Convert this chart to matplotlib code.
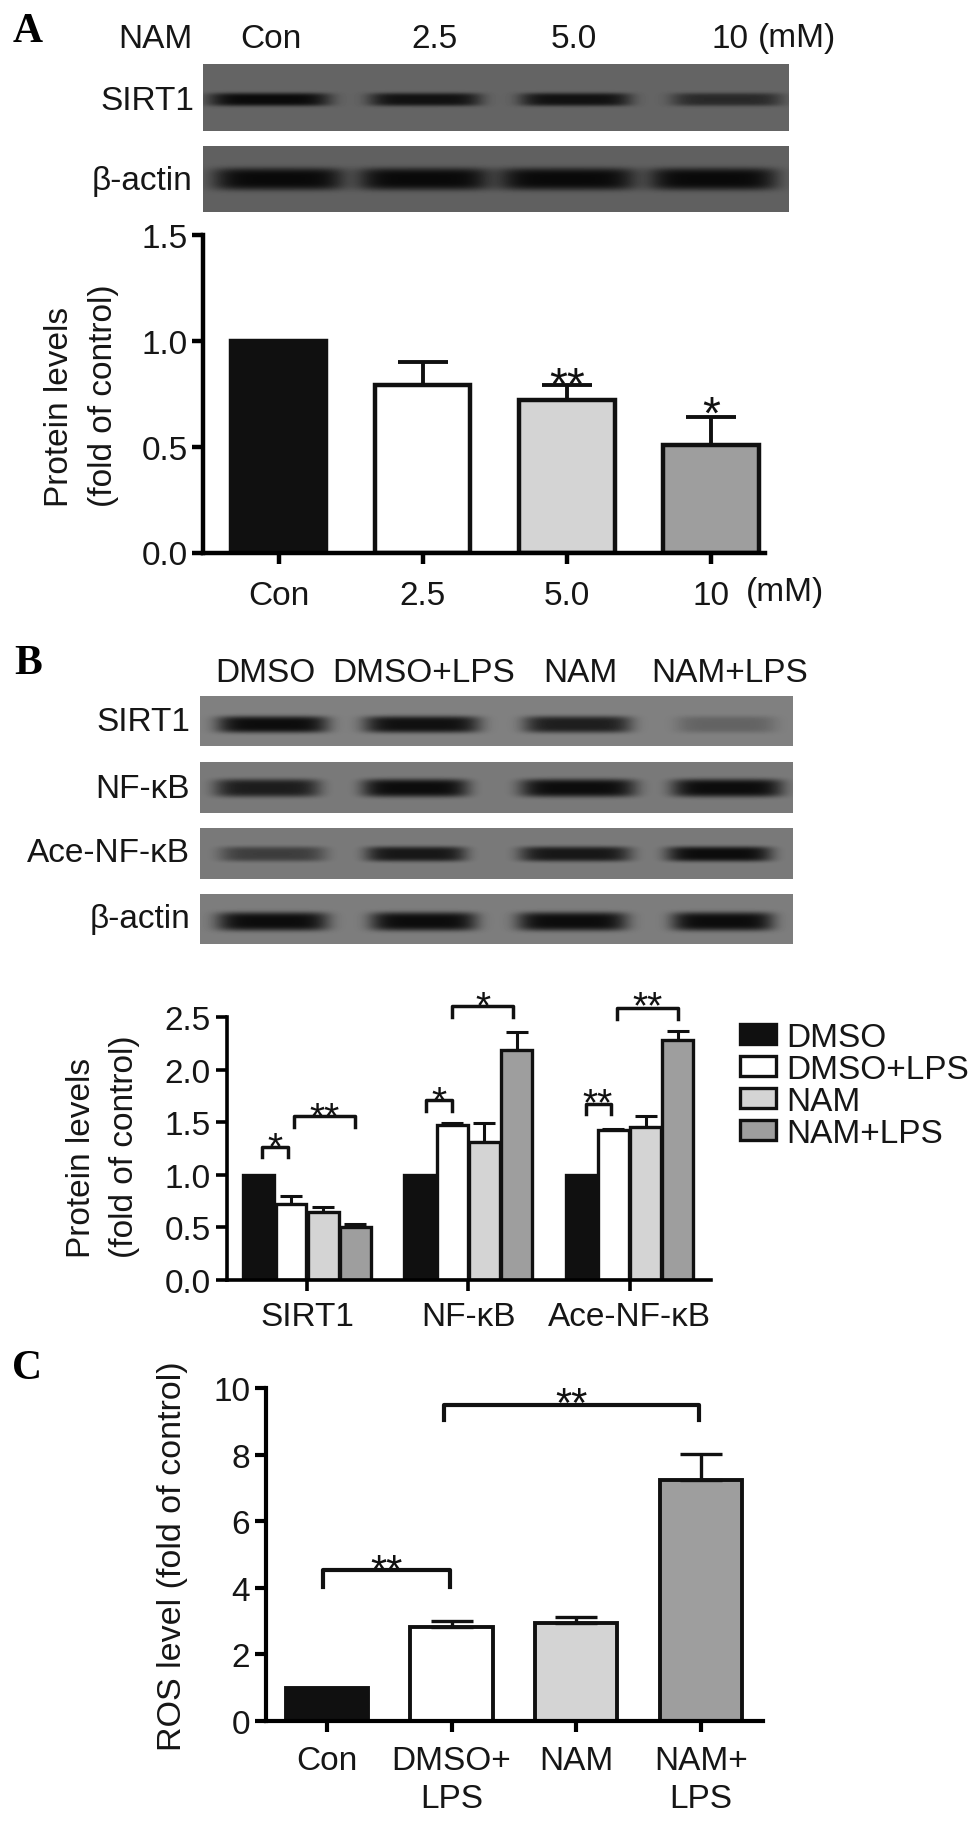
import numpy as np
import matplotlib
matplotlib.use('Agg')
import matplotlib.pyplot as plt
from matplotlib.patches import Patch

W, H = 979, 1824
plt.rcParams['font.family'] = ['Liberation Sans', 'DejaVu Sans']
FS = 24

DARK = '#101010'
COLORS = ['#101010', '#ffffff', '#d4d4d4', '#9e9e9e']

# panel A
a_labels = ['Con', '2.5', '5.0', '10']
a_values = [1.0, 0.79, 0.72, 0.51]
a_errors = [0.0, 0.11, 0.07, 0.13]

# panel B
b_groups = ['SIRT1', 'NF-κB', 'Ace-NF-κB']
b_series = ['DMSO', 'DMSO+LPS', 'NAM', 'NAM+LPS']
b_dmso = [1.0, 1.0, 1.0]
b_dmso_lps = [0.72, 1.47, 1.43]
b_nam = [0.65, 1.31, 1.45]
b_nam_lps = [0.50, 2.19, 2.28]
b_dmso_lps_err = [0.08, 0.02, 0.01]
b_nam_err = [0.04, 0.18, 0.11]
b_nam_lps_err = [0.03, 0.17, 0.09]

# panel C
c_labels = ['Con', 'DMSO+\nLPS', 'NAM', 'NAM+\nLPS']
c_values = [1.0, 2.82, 2.95, 7.25]
c_errors = [0.0, 0.18, 0.17, 0.77]

# blot bands: centre, half width, darkness (fractions of the blot)
a_sirt1 = [(.113, .104, 1.0), (.379, .096, .92), (.636, .095, .92), (.895, .095, .65)]
a_actin = [(.129, .112, 1.0), (.377, .113, 1.0), (.622, .118, 1.0), (.871, .110, 1.0)]
b_sirt1 = [(.122, .094, 1.0), (.374, .098, .97), (.637, .091, .85), (.888, .083, .25)]
b_nfkb = [(.113, .089, .85), (.363, .090, 1.0), (.638, .098, 1.0), (.890, .094, 1.0)]
b_ace = [(.122, .089, .55), (.364, .085, .9), (.633, .094, .9), (.876, .089, 1.0)]
b_actin = [(.122, .094, 1.0), (.377, .090, 1.0), (.628, .093, 1.0), (.882, .086, 1.0)]

fig = plt.figure(figsize=(W / 100, H / 100), dpi=100)


def px_axes(left, top, right, bottom):
    return fig.add_axes([left / W, 1 - bottom / H, (right - left) / W, (bottom - top) / H])


def txt(x, y, s, **kw):
    kw.setdefault('fontsize', FS)
    kw.setdefault('ha', 'center')
    kw.setdefault('va', 'center')
    kw.setdefault('color', '#161616')
    fig.text(x / W, 1 - y / H, s, **kw)


def blot(left, top, right, bottom, bands, ypos, hh, bg):
    ax = px_axes(left, top, right, bottom)
    nx, ny = int(right - left), int(bottom - top)
    xx, yy = np.meshgrid(np.linspace(0, 1, nx), np.linspace(0, 1, ny))
    img = np.full((ny, nx), float(bg))
    for cx, hw, d in bands:
        prof = np.exp(-np.abs((xx - cx) / hw) ** 6) * np.exp(-((yy - ypos) / hh) ** 4)
        img = img * (1 - d * prof * 0.9)
    ax.imshow(img, cmap='gray', vmin=0, vmax=255, aspect='auto', interpolation='bilinear')
    ax.axis('off')


def style(ax, lw, ticklen):
    ax.spines['top'].set_visible(False)
    ax.spines['right'].set_visible(False)
    ax.spines['left'].set_linewidth(lw)
    ax.spines['bottom'].set_linewidth(lw)
    ax.tick_params(width=lw, length=ticklen, labelsize=FS, labelcolor='#161616')


def bracket(ax, x0, x1, top, bottom, lw, stars, star_y, size=28):
    ax.plot([x0, x0, x1, x1], [bottom, top, top, bottom], color='#111111', lw=lw, clip_on=False)
    ax.text((x0 + x1) / 2, star_y, stars, ha='center', va='center', fontsize=size,
            color='#111111', clip_on=False)


# ---- A ----
txt(28, 32, 'A', family='Liberation Serif', weight='bold', fontsize=30, color='black')
for x, s in zip([155, 271, 435, 574, 730, 797], ['NAM', 'Con', '2.5', '5.0', '10', '(mM)']):
    txt(x, 39, s)
txt(194, 102, 'SIRT1', ha='right')
txt(192, 182, 'β-actin', ha='right')
blot(203, 65, 789, 132, a_sirt1, .53, .10, 100)
blot(203, 147, 789, 213, a_actin, .50, .17, 96)

ax = px_axes(203.5, 236, 765, 553.5)
x = np.arange(4)
ax.bar(x, a_values, width=0.66, color=COLORS, edgecolor=DARK, linewidth=3.2)
ax.errorbar(x[1:], a_values[1:], yerr=[np.zeros(3), a_errors[1:]], fmt='none', ecolor=DARK,
            elinewidth=2.8, capsize=18, capthick=2.8, zorder=1)
ax.set_xlim(-0.524, 3.375)
ax.set_ylim(0, 1.5)
ax.set_yticks([0, 0.5, 1.0, 1.5], ['0.0', '0.5', '1.0', '1.5'])
ax.set_xticks(x, a_labels)
style(ax, 3.2, 8)
ax.tick_params(axis='x', pad=12)
ax.text(2.0, 0.782, '**', ha='center', va='center', fontsize=33, color='#111111')
ax.text(3.0, 0.645, '*', ha='center', va='center', fontsize=33, color='#111111')
txt(785, 593, '(mM)')
txt(60, 507, 'Protein levels', rotation=90, va='bottom')
txt(104, 507, '(fold of control)', rotation=90, va='bottom')

# ---- B ----
txt(28, 664, 'B', family='Liberation Serif', weight='bold', fontsize=30, color='black')
for x, s in zip([265, 424, 580, 730], b_series):
    txt(x, 673, s)
for y, s in zip([723, 789, 854, 920], ['SIRT1', 'NF-κB', 'Ace-NF-κB', 'β-actin']):
    txt(190, y, s, ha='right')
blot(200, 697, 793, 747, b_sirt1, .57, .17, 128)
blot(200, 763, 793, 814, b_nfkb, .51, .18, 122)
blot(200, 829, 793, 880, b_ace, .51, .15, 122)
blot(200, 895, 793, 945, b_actin, .55, .19, 125)

ax = px_axes(226.5, 1018, 711, 1281)
gx = np.arange(3)
step = 0.2
vals = [b_dmso, b_dmso_lps, b_nam, b_nam_lps]
errs = [None, b_dmso_lps_err, b_nam_err, b_nam_lps_err]
for i, v in enumerate(vals):
    pos = gx + (i - 1.5) * step
    ax.bar(pos, v, width=step * 0.96, color=COLORS[i], edgecolor=DARK, linewidth=2.4, zorder=2)
    if errs[i] is not None:
        ax.errorbar(pos, v, yerr=[np.zeros(3), errs[i]], fmt='none', ecolor=DARK, elinewidth=2.2,
                    capsize=8, capthick=2.2, zorder=1)
ax.set_xlim(-0.5, 2.505)
ax.set_ylim(0, 2.5)
ax.set_yticks([0, 0.5, 1.0, 1.5, 2.0, 2.5], ['0.0', '0.5', '1.0', '1.5', '2.0', '2.5'])
ax.set_xticks(gx, b_groups)
style(ax, 2.6, 8)
ax.tick_params(axis='x', pad=7)
bracket(ax, -0.277, -0.118, 1.26, 1.17, 2.5, '*', 1.25)
bracket(ax, -0.08, 0.295, 1.56, 1.45, 2.5, '**', 1.54)
bracket(ax, 0.738, 0.90, 1.71, 1.61, 2.5, '*', 1.685)
bracket(ax, 0.90, 1.277, 2.60, 2.50, 2.5, '*', 2.59)
bracket(ax, 1.727, 1.882, 1.67, 1.58, 2.5, '**', 1.67)
bracket(ax, 1.92, 2.30, 2.59, 2.48, 2.5, '**', 2.59)
handles = [Patch(facecolor=c, edgecolor=DARK, linewidth=2.4, label=s) for c, s in zip(COLORS, b_series)]
fig.legend(handles=handles, loc='upper left', bbox_to_anchor=(733 / W, 1 - 1016 / H), frameon=False,
           fontsize=FS, handlelength=1.1, handleheight=0.55, handletextpad=0.3, labelspacing=0.03,
           borderpad=0.2, borderaxespad=0, labelcolor='#161616')
txt(81, 1258, 'Protein levels', rotation=90, va='bottom')
txt(124, 1258, '(fold of control)', rotation=90, va='bottom')

# ---- C ----
txt(27, 1369, 'C', family='Liberation Serif', weight='bold', fontsize=30, color='black')
ax = px_axes(266, 1389, 763, 1722)
x = np.arange(4)
ax.bar(x, c_values, width=0.66, color=COLORS, edgecolor=DARK, linewidth=2.8)
ax.errorbar(x[1:], c_values[1:], yerr=[np.zeros(3), c_errors[1:]], fmt='none', ecolor=DARK,
            elinewidth=2.4, capsize=15, capthick=2.4, zorder=1)
ax.set_xlim(-0.49, 3.5)
ax.set_ylim(0, 10)
ax.set_yticks([0, 2, 4, 6, 8, 10])
ax.set_xticks(x, c_labels, linespacing=1.32)
style(ax, 3, 8)
ax.tick_params(axis='x', pad=9)
bracket(ax, -0.03, 0.99, 4.52, 4.02, 3, '**', 4.47, size=30)
bracket(ax, 0.94, 2.99, 9.50, 9.03, 3, '**', 9.5, size=30)
txt(173, 1556, 'ROS level (fold of control)', rotation=90, fontsize=24.5)

fig.savefig('out.png', dpi=100)
